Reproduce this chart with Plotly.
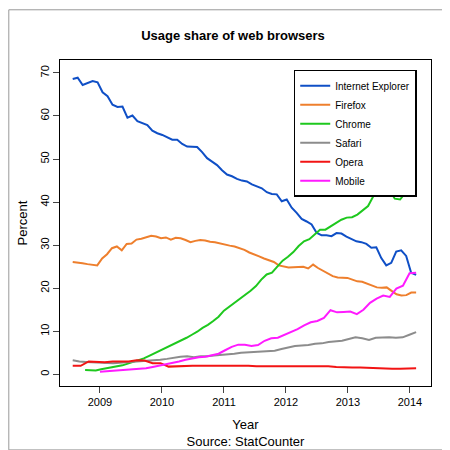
import numpy as np
import plotly.graph_objects as go

ie = [68.6,68.9,67.2,67.6,68.1,67.8,65.5,64.6,62.6,62.1,62.2,59.6,60.1,58.8,58.4,57.9,56.6,56.0,55.6,55.1,54.5,54.5,53.5,52.9,52.9,52.8,51.6,50.2,49.4,48.6,47.4,46.4,46.0,45.4,45.0,44.8,44.1,43.6,43.2,42.3,41.9,41.8,40.2,40.6,38.7,37.5,36.1,35.5,34.8,32.9,32.3,32.3,32.1,32.8,32.7,32.0,31.5,30.9,30.7,30.3,29.4,29.5,27.0,25.3,25.9,28.5,28.8,27.5,23.6,23.1]
firefox = [26.1,26.0,25.8,25.6,25.4,25.3,26.9,27.9,29.3,29.7,28.8,30.3,30.4,31.3,31.5,31.8,32.2,32.0,31.6,31.8,31.3,31.7,31.6,31.2,30.7,31.0,31.2,31.1,30.8,30.7,30.4,30.2,29.9,29.7,29.3,28.9,28.3,27.9,27.4,26.9,26.5,26.1,25.3,25.0,24.8,24.9,24.9,25.0,24.6,25.5,24.7,24.0,23.3,22.8,22.5,22.4,22.4,22.0,21.6,21.5,21.1,20.6,20.2,20.1,20.2,19.4,18.6,18.3,18.4,19.0,19.0]
chrome = [1.0,1.0,0.9,1.2,1.4,1.6,1.8,2.1,2.5,2.9,3.3,3.7,4.3,4.9,5.5,6.0,6.6,7.3,7.9,8.5,9.2,9.9,10.8,11.5,12.4,13.4,14.8,15.7,16.5,17.5,18.3,19.4,20.5,22.0,23.2,23.6,25.0,26.4,27.3,28.4,29.8,30.9,31.4,32.4,33.6,33.6,34.3,35.0,35.9,36.4,36.5,37.1,38.1,39.1,41.4,42.6,43.1,42.8,40.8,40.6,42.2,43.9,43.7]
safari = [3.3,3.0,2.9,2.8,2.7,2.6,2.6,2.7,2.8,3.0,3.0,3.1,3.2,3.4,3.6,3.9,4.1,4.2,4.0,4.2,4.2,4.4,4.5,4.6,4.8,5.0,5.1,5.1,5.2,5.3,5.5,5.9,6.2,6.6,6.7,6.8,7.1,7.2,7.5,7.7,7.8,8.2,8.6,8.4,8.0,8.5,8.6,8.6,8.5,8.6,9.2,9.8]
opera = [2.0,2.0,3.0,2.9,2.8,3.0,3.0,3.0,3.3,3.2,2.6,2.6,1.8,1.9,2.0,2.0,2.0,2.0,2.1,2.0,2.0,2.0,2.0,1.9,1.9,1.9,1.9,1.9,1.9,1.9,2.0,2.0,1.9,1.7,1.6,1.6,1.6,1.5,1.4,1.3,1.3,1.3,1.3,1.4]
mobile = [0.6,0.7,0.8,0.9,1.0,1.1,1.2,1.4,1.7,2.0,2.3,2.7,3.0,3.4,3.7,4.0,4.1,4.4,4.8,5.6,6.4,6.9,6.9,6.6,6.8,7.8,8.4,8.5,9.2,9.9,10.5,11.4,12.1,12.4,13.1,14.9,14.4,14.5,14.6,14.0,15.0,16.6,17.6,18.3,18.0,19.9,20.6,23.5,23.6]

names = ["Internet Explorer","Firefox","Chrome","Safari","Opera","Mobile"]
series = [ie, firefox, chrome, safari, opera, mobile]
starts = [2008.56, 2008.56, 2008.76, 2008.56, 2008.56, 2009.0]
end = 2014.1
colors = ["#0f4fc6","#ee7f2d","#1ec81e","#8c8c8c","#f21414","#ff1aff"]

fig = go.Figure()
for n, v, s, c in zip(names, series, starts, colors):
    x = np.linspace(s, end, len(v))
    fig.add_trace(go.Scatter(x=x, y=v, name=n, mode="lines", line=dict(color=c, width=2)))

fig.update_layout(
    width=450, height=450, plot_bgcolor="white", paper_bgcolor="white",
    margin=dict(l=52, r=27, t=52, b=66),
    font=dict(family="Liberation Sans", size=11, color="black"),
    title=dict(text="<b>Usage share of web browsers</b>", x=0.5, xanchor="center", y=0.94,
               yanchor="middle", font=dict(size=13)),
    showlegend=True,
    legend=dict(x=0.63, y=0.97, xanchor="left", yanchor="top", bordercolor="black", borderwidth=1.5,
                bgcolor="white", font=dict(size=10), tracegroupgap=0, itemwidth=30,
                entrywidth=0),
)
fig.update_xaxes(range=[2008.355, 2014.34], tickvals=[2009,2010,2011,2012,2013,2014], ticks="outside",
                 ticklen=6, showgrid=False, zeroline=False, showline=True, linecolor="black", mirror=True,
                 title=dict(text="Year<br>Source: StatCounter", standoff=12))
fig.update_yaxes(range=[-2.7, 73], tickvals=[0,10,20,30,40,50,60,70], ticks="outside", ticklen=6,
                 tickangle=-90, showgrid=False, zeroline=False, showline=True, linecolor="black", mirror=True,
                 title=dict(text="Percent", standoff=8))
fig.add_shape(type="rect", xref="paper", yref="paper", x0=-0.138, x1=1.07, y0=-0.196, y1=1.154,
              line=dict(color="#999999", width=1))
fig.write_html("out.html")
